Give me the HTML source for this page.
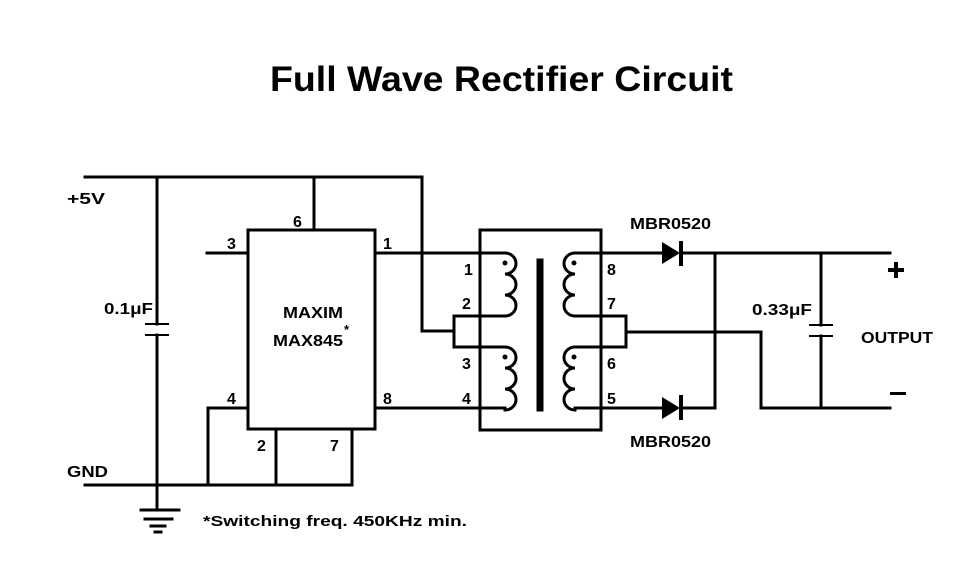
<!DOCTYPE html>
<html><head><style>
body{margin:0;background:#fff;}
svg{display:block;}
text{font-family:"Liberation Sans",sans-serif;font-weight:bold;fill:#000;}
</style></head><body>
<svg width="961" height="573" viewBox="0 0 961 573" xmlns="http://www.w3.org/2000/svg">
<text x="270" y="91" font-size="35" textLength="463" lengthAdjust="spacingAndGlyphs">Full Wave Rectifier Circuit</text>
<g stroke="#000" stroke-width="3" fill="none" stroke-linecap="square">
<path d="M85,177 H422 V331 H454"/>
<path d="M314,177 V230"/>
<path d="M157,177 V324 M157,335 V510"/>
<path d="M146,324 H168 M146,335 H168" stroke-width="2"/>
<path d="M85,485 H352 V429"/>
<path d="M276,429 V485"/>
<path d="M248,408 H208 V485"/>
<path d="M207,253 H248"/>
<path d="M141,510 H179 M145,519 H172 M151,526 H165 M155,532 H161"/>
<rect x="248" y="230" width="127" height="199"/>
<path d="M375,253 H505"/>
<path d="M375,408 H505"/>
<rect x="480" y="230" width="121" height="200"/>
<path d="M454,316 V347 M454,316 H505 M454,347 H505"/>
<path d="M505,253 a11,10.5 0 0 1 0,21 a11,10.5 0 0 1 0,21 a11,10.5 0 0 1 0,21"/>
<path d="M505,347 a11,10.5 0 0 1 0,21 a11,10.5 0 0 1 0,21 a11,10.5 0 0 1 0,21"/>
<path d="M575,253 a11,10.5 0 0 0 0,21 a11,10.5 0 0 0 0,21 a11,10.5 0 0 0 0,21"/>
<path d="M575,347 a11,10.5 0 0 0 0,21 a11,10.5 0 0 0 0,21 a11,10.5 0 0 0 0,21"/>
<path d="M540,262 V408" stroke-width="7"/>
<path d="M575,316 H626 V347 H575"/>
<path d="M626,332 H761 V408 H890"/>
<path d="M575,253 H662 M682,253 H890"/>
<path d="M575,408 H662 M682,408 H715"/>
<path d="M715,253 V408"/>
<path d="M821,253 V325 M821,336 V408" />
<path d="M810,325 H832 M810,336 H832" stroke-width="2"/>
</g>
<g fill="#000">
<circle cx="505" cy="263" r="2.5"/><circle cx="505" cy="357" r="2.5"/>
<circle cx="574" cy="263" r="2.5"/><circle cx="574" cy="357" r="2.5"/>
<polygon points="662,242 680,253 662,264"/>
<rect x="679" y="241" width="4" height="25"/>
<polygon points="662,397 680,408 662,419"/>
<rect x="679" y="395" width="4" height="25"/>
<rect x="888" y="268" width="16" height="4"/>
<rect x="894" y="262" width="4" height="16"/>
<rect x="890" y="392" width="16" height="3"/>
</g>
<g font-size="16">
<text x="67" y="204" textLength="38" lengthAdjust="spacingAndGlyphs">+5V</text>
<text x="67" y="477" textLength="41" lengthAdjust="spacingAndGlyphs">GND</text>
<text x="104" y="314" textLength="49" lengthAdjust="spacingAndGlyphs">0.1μF</text>
<text x="293" y="227">6</text>
<text x="227" y="249">3</text>
<text x="383" y="249">1</text>
<text x="227" y="404">4</text>
<text x="383" y="404">8</text>
<text x="257" y="451">2</text>
<text x="330" y="451">7</text>
<text x="283" y="318" textLength="60" lengthAdjust="spacingAndGlyphs">MAXIM</text>
<text x="273" y="346" textLength="70" lengthAdjust="spacingAndGlyphs">MAX845</text>
<text x="344" y="334" font-size="13">*</text>
<text x="464" y="275">1</text>
<text x="462" y="309">2</text>
<text x="462" y="369">3</text>
<text x="462" y="404">4</text>
<text x="607" y="275">8</text>
<text x="607" y="309">7</text>
<text x="607" y="369">6</text>
<text x="607" y="404">5</text>
<text x="630" y="229" textLength="81" lengthAdjust="spacingAndGlyphs">MBR0520</text>
<text x="630" y="447" textLength="81" lengthAdjust="spacingAndGlyphs">MBR0520</text>
<text x="752" y="315" textLength="60" lengthAdjust="spacingAndGlyphs">0.33μF</text>
<text x="861" y="343" textLength="72" lengthAdjust="spacingAndGlyphs">OUTPUT</text>
<text x="203" y="526" font-size="15" textLength="264" lengthAdjust="spacingAndGlyphs">*Switching  freq.  450KHz  min.</text>
</g>
</svg>
</body></html>
